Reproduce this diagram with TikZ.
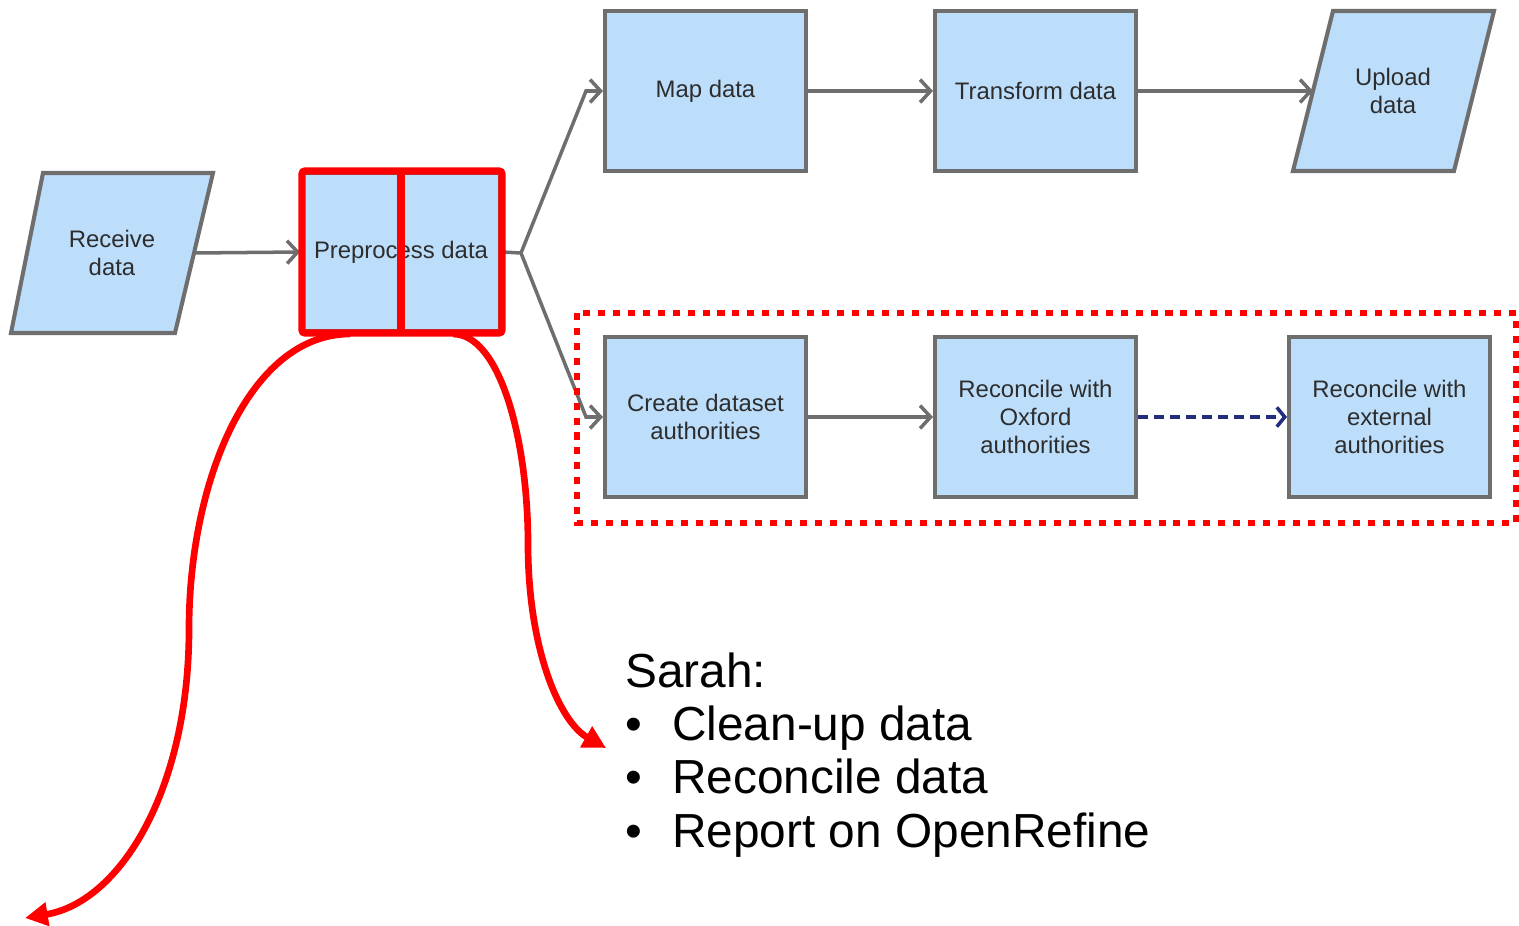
\documentclass[tikz,border=0pt]{standalone}
\usepackage{fontspec}
\setmainfont{Liberation Sans}
\usetikzlibrary{arrows.meta}
\definecolor{boxfill}{RGB}{189,222,251}
\definecolor{boxline}{RGB}{110,110,110}
\definecolor{boxtext}{RGB}{45,45,45}
\definecolor{navy}{RGB}{35,45,125}
\definecolor{hired}{RGB}{255,0,0}
\begin{document}
\begin{tikzpicture}[x=0.02cm,y=-0.02cm,
  boxtxt/.style={font=\fontsize{13.6pt}{15.9pt}\selectfont, text=boxtext, align=center},
  procbox/.style={boxtxt, draw=boxline, fill=boxfill, line width=2.3pt,
    minimum width=4.02cm, minimum height=3.2cm, inner sep=0pt},
  iobox/.style={draw=boxline, fill=boxfill, line width=2.3pt, line join=miter},
  flow/.style={draw=boxline, line width=2pt, -{Straight Barb[length=6pt,width=13pt]}},
  flowline/.style={draw=boxline, line width=2pt},
  optional/.style={draw=navy, line width=2pt, dash pattern=on 5.7pt off 3.4pt,
    -{Straight Barb[length=4.5pt,width=11pt]}},
  hilite/.style={draw=hired, line width=4pt},
  pointer/.style={draw=hired, line width=3.8pt, -{Triangle[length=13pt,width=13pt]}},
  group/.style={draw=hired, line width=3.8pt, dash pattern=on 4pt off 4.5pt},
  notes/.style={font=\fontsize{27.2pt}{30.3pt}\selectfont, text=black, align=left, inner sep=0pt}
]
\useasboundingbox (0,0) rectangle (1519,926);

% input / output parallelograms
\path[iobox] (43,173) -- (213,173) -- (175,333) -- (11,333) -- cycle;
\node[boxtxt] (recv) at (112,253) {Receive\\data};
\coordinate (recvE) at (194,253);

\path[iobox] (1333,11) -- (1494,11) -- (1454,171) -- (1293,171) -- cycle;
\node[boxtxt] (upload) at (1393,91) {Upload\\data};
\coordinate (uploadW) at (1313,91);

% process boxes
\node[procbox, minimum width=3.96cm, minimum height=3.16cm] (prep) at (401,252) {Preprocess data};
\node[procbox] (map) at (705.5,91) {Map data};
\node[procbox] (trans) at (1035.5,91) {Transform data};
\node[procbox] (create) at (705.5,417) {Create dataset\\authorities};
\node[procbox] (oxford) at (1035.5,417) {Reconcile with\\Oxford\\authorities};
\node[procbox] (ext) at (1389.5,417) {Reconcile with\\external\\authorities};

% connectors
\coordinate (split) at (521,253);
\coordinate (upbend) at (586,91);
\coordinate (lobend) at (586,417);
\draw[flow] (recvE) -- (prep.west);
\draw[flowline] (prep.east) -- (split);
\draw[flow] (split) -- (upbend) -- (map.west);
\draw[flow] (split) -- (lobend) -- (create.west);
\draw[flow] (map.east) -- (trans.west);
\draw[flow] (trans.east) -- (uploadW);
\draw[flow] (create.east) -- (oxford.west);
\draw[optional] (oxford.east) -- (ext.west);

% red highlight of the preprocess step
\draw[hilite, rounded corners=1.5pt] (302,171) rectangle (502,333);
\draw[hilite] (401,171) -- (401,333);

% red dotted group
\draw[group] (577,313) rectangle (1516,523);

% red pointers
\coordinate (lstart) at (350,334);
\coordinate (lmid) at (189,629);
\coordinate (lend) at (25,918);
\coordinate (rstart) at (453,334);
\coordinate (rmid) at (528,544);
\coordinate (rend) at (606,748);
\draw[pointer] (lstart) .. controls (250,334) and (189,480) .. (lmid)
  .. controls (189,790) and (120,902) .. (lend);
\draw[pointer] (rstart) .. controls (500,334) and (528,440) .. (rmid)
  .. controls (528,650) and (560,722) .. (rend);

% notes
\node[notes, anchor=base west] (sarah) at (625,847)
  {Sarah:\\
   \makebox[26.7pt][l]{•}Clean-up data\\
   \makebox[26.7pt][l]{•}Reconcile data\\
   \makebox[26.7pt][l]{•}Report on OpenRefine};
\end{tikzpicture}
\end{document}
